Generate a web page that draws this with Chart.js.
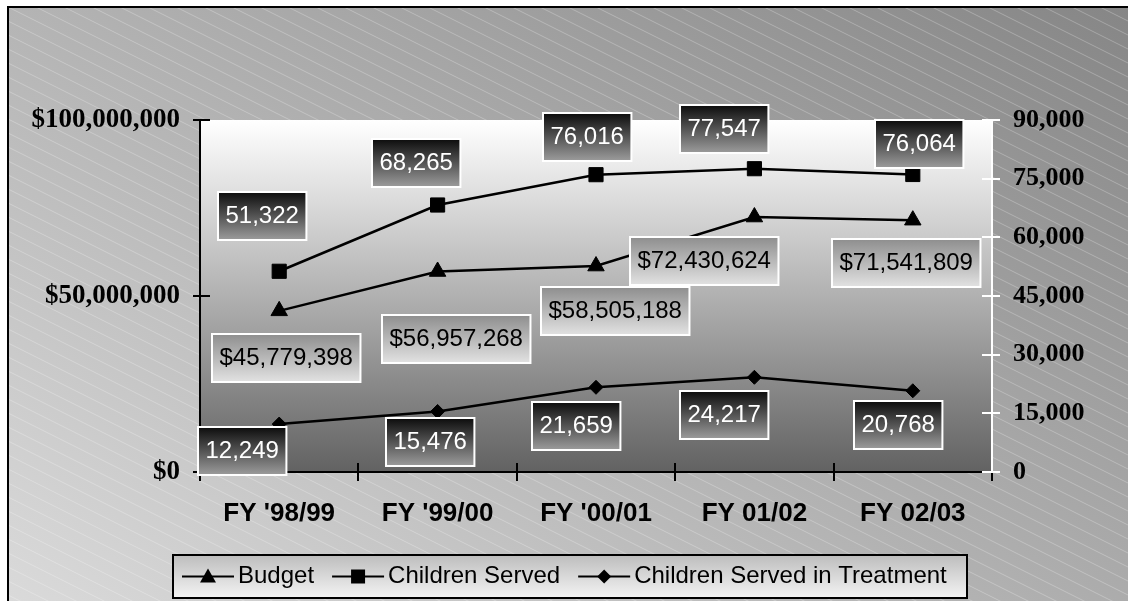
<!DOCTYPE html>
<html>
<head>
<meta charset="utf-8">
<script src="https://cdn.jsdelivr.net/npm/chart.js@4.4.1/dist/chart.umd.min.js"></script>
<style>
  html, body { margin: 0; padding: 0; background: #fff; }
  canvas { display: block; }
</style>
</head>
<body>
<canvas id="fundingChart" width="1128" height="601"></canvas>
<script>
const categories = ["FY '98/99", "FY '99/00", "FY '00/01", "FY 01/02", "FY 02/03"];
const budget = [45779398, 56957268, 58505188, 72430624, 71541809];
const childrenServed = [51322, 68265, 76016, 77547, 76064];
const inTreatment = [12249, 15476, 21659, 24217, 20768];
const seriesNames = ["Budget", "Children Served", "Children Served in Treatment"];

// where each value box sits, relative to its point (box centre)
const budgetBoxShift = [[7, 47], [19, 67], [19, 45], [-50, 44], [-7, 43]];
const servedBoxShift = [[-17, -55], [-21, -42], [-9, -38], [-30, -40], [6, -31]];
const treatBoxShift = [[-37, 27], [-7, 31], [-20, 39], [-30, 38], [-15, 34]];

const SANS = "'Liberation Sans', Arial, sans-serif";
const SERIF = "'Liberation Serif', 'Times New Roman', serif";

const panelPlugin = {
    id: "panel",
    beforeDraw(chart) {
        const { ctx, width, height, chartArea: a } = chart;
        ctx.save();
        ctx.fillStyle = "#fff";
        ctx.fillRect(0, 0, width, height);

        // outer panel: light lower-left, dark upper-right
        const x0 = 8, y0 = 7, W = width - x0, H = height - y0;
        const gx = 0.55 / W, gy = -0.45 / H;
        const g2 = gx * gx + gy * gy;
        const grad = ctx.createLinearGradient(x0, height, x0 + gx / g2, height + gy / g2);
        grad.addColorStop(0, "#dadada");
        grad.addColorStop(1, "#868686");
        ctx.fillStyle = grad;
        ctx.fillRect(x0, y0, W, H);

        // thin diagonal stripes
        ctx.beginPath();
        ctx.rect(x0, y0, W, H);
        ctx.clip();
        ctx.strokeStyle = "rgba(255,255,255,0.26)";
        ctx.lineWidth = 1;
        for (let y = y0 - W * 0.5; y < height; y += 14) {
            ctx.beginPath();
            ctx.moveTo(x0, y);
            ctx.lineTo(x0 + W, y + W * 0.5);
            ctx.stroke();
        }
        ctx.restore();

        ctx.save();
        ctx.strokeStyle = "#000";
        ctx.lineWidth = 2;
        ctx.beginPath();
        ctx.moveTo(x0, height);
        ctx.lineTo(x0, y0);
        ctx.lineTo(width, y0);
        ctx.stroke();

        // plot area: white fading to dark grey
        const pg = ctx.createLinearGradient(0, a.top, 0, a.bottom);
        pg.addColorStop(0, "#ffffff");
        pg.addColorStop(1, "#626262");
        ctx.fillStyle = pg;
        ctx.fillRect(a.left, a.top, a.right - a.left, a.bottom - a.top);
        ctx.restore();
    }
};

const drawBox = (ctx, text, cx, cy, dark) => {
    ctx.font = "24px " + SANS;
    const w = ctx.measureText(text).width + 15;
    const h = 48;
    const x = Math.round(cx - w / 2), y = Math.round(cy - h / 2);
    const g = ctx.createLinearGradient(0, y, 0, y + h);
    if (dark) {
        g.addColorStop(0, "#0c0c0c");
        g.addColorStop(1, "#9c9c9c");
    } else {
        g.addColorStop(0, "#8e8e8e");
        g.addColorStop(1, "#e2e2e2");
    }
    ctx.fillStyle = g;
    ctx.fillRect(x, y, w, h);
    ctx.strokeStyle = "#fff";
    ctx.lineWidth = 2;
    ctx.strokeRect(x, y, w, h);
    ctx.fillStyle = dark ? "#fff" : "#000";
    ctx.textAlign = "center";
    ctx.textBaseline = "middle";
    ctx.fillText(text, x + w / 2, y + h / 2);
};

const marksPlugin = {
    id: "marks",
    afterDatasetsDraw(chart) {
        const { ctx, chartArea: a, scales } = chart;
        ctx.save();
        ctx.lineWidth = 2;

        // tick marks crossing the axes
        ctx.strokeStyle = "#000";
        scales.yBudget.ticks.forEach(t => {
            const y = Math.round(scales.yBudget.getPixelForValue(t.value));
            ctx.beginPath(); ctx.moveTo(a.left - 7, y); ctx.lineTo(a.left + 10, y); ctx.stroke();
        });
        const n = categories.length;
        for (let i = 0; i <= n; i++) {
            const x = Math.round(a.left + i * (a.right - a.left) / n);
            const top = (i === 0 || i === n) ? a.bottom : a.bottom - 9;
            ctx.beginPath(); ctx.moveTo(x, top); ctx.lineTo(x, a.bottom + 9); ctx.stroke();
        }
        ctx.strokeStyle = "#fff";
        scales.yCount.ticks.forEach(t => {
            const y = Math.round(scales.yCount.getPixelForValue(t.value));
            ctx.beginPath(); ctx.moveTo(a.right - 10, y); ctx.lineTo(a.right + 8, y); ctx.stroke();
        });

        // value boxes
        const shifts = [budgetBoxShift, servedBoxShift, treatBoxShift];
        chart.data.datasets.forEach((ds, di) => {
            const meta = chart.getDatasetMeta(di);
            meta.data.forEach((pt, i) => {
                const v = ds.data[i];
                const text = di === 0 ? "$" + v.toLocaleString("en-US") : v.toLocaleString("en-US");
                drawBox(ctx, text, pt.x + shifts[di][i][0], pt.y + shifts[di][i][1], di !== 0);
            });
        });
        ctx.restore();
    }
};

const drawMarker = (ctx, style, x, y) => {
    ctx.beginPath();
    if (style === "triangle") {
        ctx.moveTo(x, y - 8); ctx.lineTo(x + 8, y + 6); ctx.lineTo(x - 8, y + 6);
    } else if (style === "rect") {
        ctx.rect(x - 7, y - 7, 14, 14);
    } else {
        ctx.moveTo(x, y - 7); ctx.lineTo(x + 7, y); ctx.lineTo(x, y + 7); ctx.lineTo(x - 7, y);
    }
    ctx.closePath();
    ctx.fill();
};

const legendPlugin = {
    id: "boxLegend",
    afterDraw(chart) {
        const { ctx } = chart;
        const left = 173, top = 555, right = 967, bottom = 598;
        ctx.save();
        const g = ctx.createLinearGradient(0, top, 0, bottom);
        g.addColorStop(0, "#bdbdbd");
        g.addColorStop(1, "#f4f4f4");
        ctx.fillStyle = g;
        ctx.fillRect(left, top, right - left, bottom - top);
        ctx.strokeStyle = "#000";
        ctx.lineWidth = 2;
        ctx.strokeRect(left, top, right - left, bottom - top);

        ctx.font = "24px " + SANS;
        ctx.textBaseline = "middle";
        ctx.textAlign = "left";
        const cy = (top + bottom) / 2;
        let x = left + 9;
        chart.data.datasets.forEach(ds => {
            ctx.strokeStyle = "#000";
            ctx.fillStyle = "#000";
            ctx.lineWidth = 2;
            ctx.beginPath(); ctx.moveTo(x, cy); ctx.lineTo(x + 52, cy); ctx.stroke();
            drawMarker(ctx, ds.pointStyle, x + 26, cy);
            x += 56;
            ctx.fillText(ds.label, x, cy);
            x += ctx.measureText(ds.label).width + 18;
        });
        ctx.restore();
    }
};

const lineSet = (label, data, axis, style, radius) => ({
    label: label,
    data: data,
    yAxisID: axis,
    borderColor: "#000",
    backgroundColor: "#000",
    borderWidth: 2.5,
    pointStyle: style,
    pointRadius: radius,
    pointBorderWidth: 1,
    pointBackgroundColor: "#000",
    pointBorderColor: "#000",
    tension: 0
});

new Chart(document.getElementById("fundingChart"), {
    type: "line",
    data: {
        labels: categories,
        datasets: [
            lineSet(seriesNames[0], budget, "yBudget", "triangle", 9.5),
            lineSet(seriesNames[1], childrenServed, "yCount", "rect", 10),
            lineSet(seriesNames[2], inTreatment, "yCount", "rectRot", 7)
        ]
    },
    options: {
        responsive: false,
        animation: false,
        devicePixelRatio: 1,
        layout: { padding: { top: 120, left: 0, right: 0, bottom: 0 } },
        plugins: { legend: { display: false }, tooltip: { enabled: false } },
        scales: {
            x: {
                offset: true,
                grid: { display: false, drawTicks: false },
                border: { display: true, color: "#000", width: 2 },
                ticks: {
                    color: "#000",
                    padding: 26,
                    maxRotation: 0,
                    font: { family: SANS, size: 26, weight: "bold" }
                },
                afterFit: s => { s.height = 129; }
            },
            yBudget: {
                position: "left",
                min: 0,
                max: 100000000,
                grid: { display: false, drawTicks: false },
                border: { display: true, color: "#000", width: 2 },
                ticks: {
                    stepSize: 50000000,
                    color: "#000",
                    padding: 20,
                    font: { family: SERIF, size: 27, weight: "bold" },
                    callback: v => "$" + v.toLocaleString("en-US")
                },
                afterFit: s => { s.width = 200; }
            },
            yCount: {
                position: "right",
                min: 0,
                max: 90000,
                grid: { display: false, drawTicks: false },
                border: { display: true, color: "#fff", width: 2 },
                ticks: {
                    stepSize: 15000,
                    color: "#000",
                    padding: 21,
                    font: { family: SERIF, size: 26, weight: "bold" },
                    callback: v => v.toLocaleString("en-US")
                },
                afterFit: s => { s.width = 136; }
            }
        }
    },
    plugins: [panelPlugin, marksPlugin, legendPlugin]
});
</script>
</body>
</html>
